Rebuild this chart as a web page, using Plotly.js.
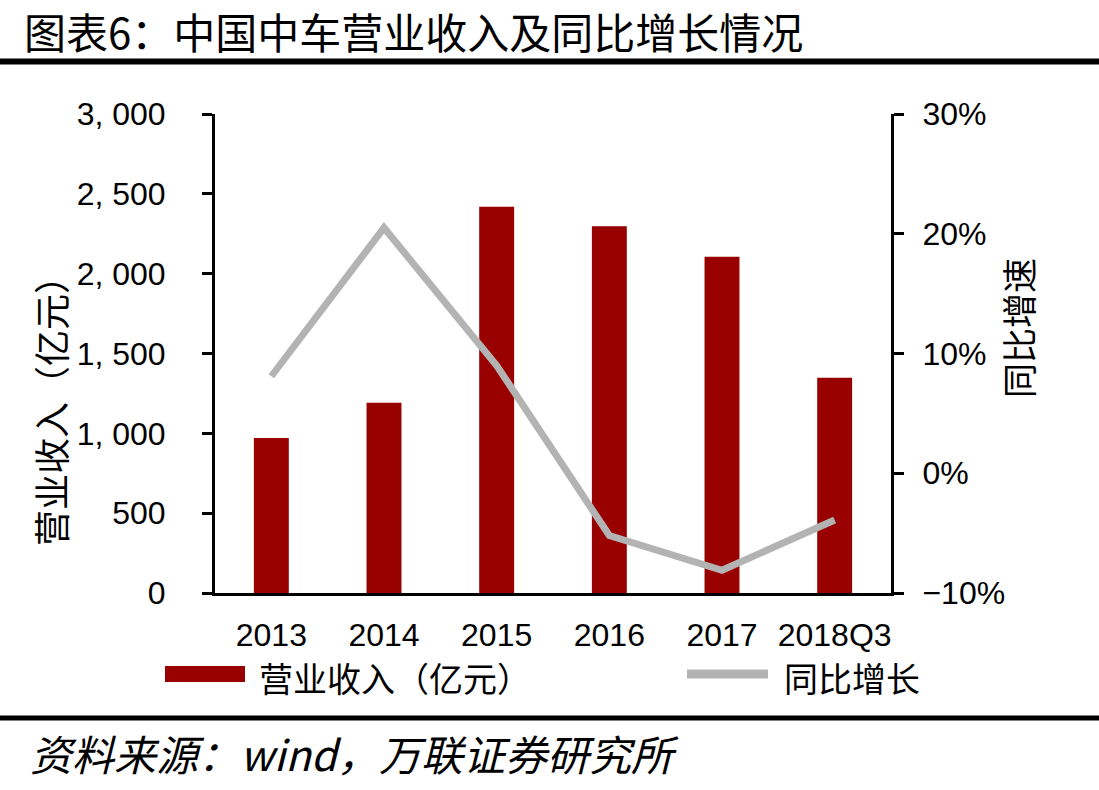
<!DOCTYPE html>
<html>
<head>
<meta charset="utf-8">
<script src="https://cdn.plot.ly/plotly-3.0.1.min.js"></script>
<style>
  html, body { margin: 0; padding: 0; background: #ffffff; }
  #chart { width: 1099px; height: 790px; }
</style>
</head>
<body>
<div id="chart"></div>
<script>
// ---- data ----
const categories = ["2013", "2014", "2015", "2016", "2017", "2018Q3"];
const revenue = [971, 1192, 2419, 2297, 2106, 1348];          // 营业收入（亿元）
const growth = [8.1, 20.5, 9.0, -5.2, -8.1, -3.9];             // 同比增长 (%)
const revenueName = "营业收入（亿元）";
const growthName = "同比增长";
const leftTickVals = [0, 500, 1000, 1500, 2000, 2500, 3000];
const leftTickText = ["0", "500", "1, 000", "1, 500", "2, 000", "2, 500", "3, 000"];
const rightTickVals = [-10, 0, 10, 20, 30];
const rightTickText = ["\u221210%", "0%", "10%", "20%", "30%"];
const titleText = "图表6：中国中车营业收入及同比增长情况";
const leftAxisTitle = "营业收入（亿元）";
const rightAxisTitle = "同比增速";
const sourceText = "资料来源：wind，万联证券研究所";

// ---- geometry helpers (pixel -> paper) ----
const W = 1099, H = 790;
const L = 215, R = 891, T = 114, B = 593;
const px = x => (x - L) / (R - L);
const py = y => (B - y) / (B - T);

const CJK = '"Noto Sans CJK SC", "Noto Sans", sans-serif';
const LAT = '"Liberation Sans", Arial, sans-serif';
const RED = '#990000';
const GRAY = '#B3B3B3';

const traces = [
  {
    type: 'bar',
    name: revenueName,
    x: categories,
    y: revenue,
    width: 0.31,
    marker: { color: RED, line: { width: 0 } },
    yaxis: 'y',
    hoverinfo: 'x+y'
  },
  {
    type: 'scatter',
    mode: 'lines',
    name: growthName,
    x: categories,
    y: growth,
    line: { color: GRAY, width: 7 },
    yaxis: 'y2',
    hoverinfo: 'x+y'
  }
];

const layout = {
  width: W,
  height: H,
  margin: { l: L, r: W - R, t: T, b: H - B, pad: 0 },
  paper_bgcolor: '#ffffff',
  plot_bgcolor: '#ffffff',
  showlegend: false,
  title: {
    text: titleText,
    font: { family: CJK, size: 42, color: '#000000' },
    x: 24 / W, xanchor: 'left', xref: 'container',
    y: 1 - 34 / H, yanchor: 'middle', yref: 'container'
  },
  xaxis: {
    type: 'category',
    range: [-0.5, 5.5],
    showline: true, linecolor: '#000000', linewidth: 3,
    ticks: '', showgrid: false, zeroline: false,
    tickfont: { family: LAT, size: 32, color: '#000000' },
    ticklabelstandoff: 12,
    fixedrange: true
  },
  yaxis: {
    range: [0, 3000],
    tickvals: leftTickVals,
    ticktext: leftTickText,
    ticks: 'outside', ticklen: 10, tickwidth: 3, tickcolor: '#000000',
    showline: true, linecolor: '#000000', linewidth: 3,
    showgrid: false, zeroline: false,
    tickfont: { family: LAT, size: 32, color: '#000000' },
    ticklabelstandoff: 30,
    fixedrange: true
  },
  yaxis2: {
    overlaying: 'y',
    side: 'right',
    range: [-10, 30],
    tickvals: rightTickVals,
    ticktext: rightTickText,
    ticks: 'outside', ticklen: 10, tickwidth: 3, tickcolor: '#000000',
    showline: true, linecolor: '#000000', linewidth: 3,
    showgrid: false, zeroline: false,
    tickfont: { family: LAT, size: 32, color: '#000000' },
    ticklabelstandoff: 12,
    fixedrange: true
  },
  shapes: [
    // rule under the title
    { type: 'line', xref: 'paper', yref: 'paper', x0: px(0), x1: px(W), y0: py(61.5), y1: py(61.5),
      line: { color: '#000000', width: 6 } },
    // rule above the source
    { type: 'line', xref: 'paper', yref: 'paper', x0: px(0), x1: px(W), y0: py(718), y1: py(718),
      line: { color: '#000000', width: 5 } },
    // legend swatch: bars
    { type: 'rect', xref: 'paper', yref: 'paper', x0: px(165), x1: px(245), y0: py(682), y1: py(666),
      fillcolor: RED, line: { width: 0 } },
    // legend swatch: line
    { type: 'line', xref: 'paper', yref: 'paper', x0: px(687), x1: px(768), y0: py(674), y1: py(674),
      line: { color: GRAY, width: 9 } }
  ],
  annotations: [
    { xref: 'paper', yref: 'paper', x: px(257), y: py(677), xanchor: 'left', yanchor: 'middle',
      text: revenueName, showarrow: false, font: { family: CJK, size: 34, color: '#000000' } },
    { xref: 'paper', yref: 'paper', x: px(782), y: py(677), xanchor: 'left', yanchor: 'middle',
      text: growthName, showarrow: false, font: { family: CJK, size: 34, color: '#000000' } },
    { xref: 'paper', yref: 'paper', x: px(50), y: py(402), xanchor: 'center', yanchor: 'middle',
      text: leftAxisTitle, textangle: -90, showarrow: false,
      font: { family: CJK, size: 36, color: '#000000' } },
    { xref: 'paper', yref: 'paper', x: px(1017), y: py(328), xanchor: 'center', yanchor: 'middle',
      text: rightAxisTitle, textangle: -90, showarrow: false,
      font: { family: CJK, size: 35, color: '#000000' } },
    { xref: 'paper', yref: 'paper', x: px(28), y: py(752), xanchor: 'left', yanchor: 'middle',
      text: sourceText, showarrow: false,
      font: { family: CJK, size: 42, color: '#000000', style: 'italic' } }
  ]
};

Plotly.newPlot('chart', traces, layout, { displayModeBar: false, staticPlot: true });
</script>
</body>
</html>
